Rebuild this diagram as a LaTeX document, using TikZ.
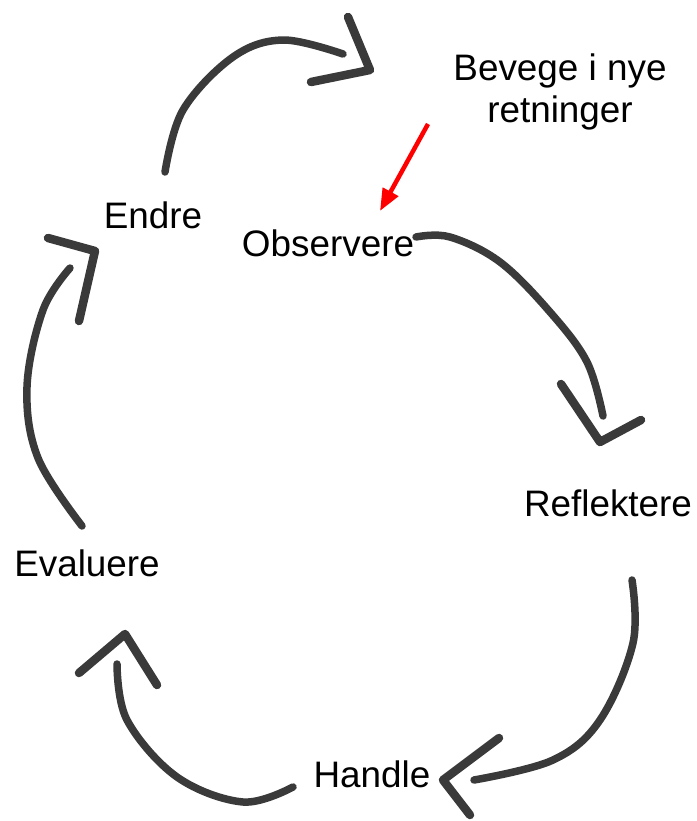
\documentclass[tikz,border=0pt]{standalone}
\usepackage{fontspec}
\setmainfont{Liberation Sans}
\usetikzlibrary{arrows.meta}
\definecolor{ink}{HTML}{3A3A3A}
\tikzset{
  lbl/.style={font=\fontsize{37}{43}\selectfont, inner sep=0pt, align=center},
  brush/.style={draw=ink, line width=7.5bp, line cap=round, line join=round},
  head/.style={draw=ink, line width=8.5bp, line cap=round, line join=round},
  pointer/.style={draw=red, line width=4.5bp, -{Triangle[length=22bp,width=17bp]}}
}
\begin{document}
\begin{tikzpicture}[x=1bp,y=-1bp]
\useasboundingbox (0,0) rectangle (697,821);

% cycle labels
\node[lbl] (obs) at (328,243) {Observere};
\node[lbl] (ref) at (608,503) {Reflektere};
\node[lbl] (han) at (372,774) {Handle};
\node[lbl] (eva) at (87,563) {Evaluere};
\node[lbl] (end) at (153,215) {Endre};
\node[lbl] (nye) at (560,92) {Bevege i nye\\retninger};

% Endre -> top arrow
\draw[brush] plot[smooth, tension=0.6] coordinates {(165,172) (183,110) (233,57) (283,40) (343,54)};
\draw[head] (348,17) -- (370,70) -- (311,82);

% Observere -> Reflektere
\draw[brush] plot[smooth, tension=0.6] coordinates {(416,237) (450,237) (500,262) (550,312) (587,362) (603,416)};
\draw[head] (561,384) -- (600,442) -- (641,420);

% Reflektere -> Handle
\draw[brush] plot[smooth, tension=0.6] coordinates {(632,580) (633,643) (600,720) (553,760) (474,780)};
\draw[head] (499,738) -- (443,780) -- (470,815);

% Handle -> Evaluere
\draw[brush] plot[smooth, tension=0.6] coordinates {(293,787) (243,802) (177,777) (127,720) (117,664)};
\draw[head] (79,673) -- (125,634) -- (157,685);

% Evaluere -> Endre
\draw[brush] plot[smooth, tension=0.6] coordinates {(82,526) (38,458) (27,387) (43,310) (70,268)};
\draw[head] (48,238) -- (95,251) -- (79,321);

% red pointer to Observere
\coordinate (ptail) at (428,124);
\coordinate (ptip) at (380,211);
\draw[pointer] (ptail) -- (ptip);
\end{tikzpicture}
\end{document}
